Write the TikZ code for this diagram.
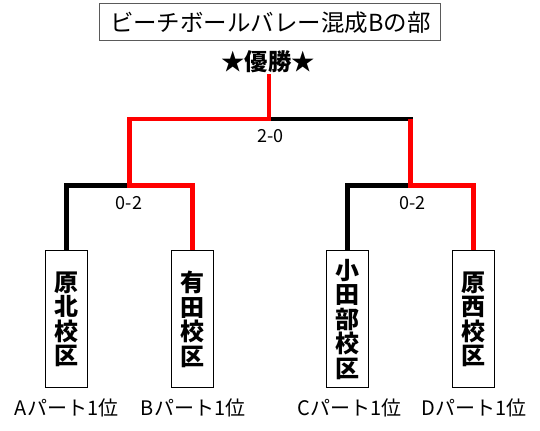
\documentclass[tikz,border=0pt]{standalone}
\usepackage{fontspec}
\setmainfont{Noto Sans CJK JP}
\begin{document}
\begin{tikzpicture}[x=0.75pt,y=0.75pt,yscale=-1,xscale=1,
  redln/.style={draw={rgb, 255:red, 255; green, 0; blue, 0 }, line width=3.6pt, line join=miter},
  blkln/.style={draw={rgb, 255:red, 0; green, 0; blue, 0 }, line width=3.6pt, line join=miter},
  schoolbox/.style={draw={rgb, 255:red, 0; green, 0; blue, 0 }, line width=0.75pt, fill=white, minimum width=31.5pt, minimum height=102.75pt, inner sep=0pt, align=center, font=\bfseries\fontsize{18}{18.4}\selectfont},
  partlbl/.style={inner sep=0.75pt, font=\fontsize{15}{18}\selectfont},
  score/.style={inner sep=0.75pt, font=\fontsize{13.5}{16}\selectfont}]
\useasboundingbox (0,0) rectangle (540,431);

% Title
\draw (270.3,22.3) node (ttl) [draw={rgb, 255:red, 90; green, 90; blue, 90 }, line width=0.75pt, minimum width=255.5pt, minimum height=27.5pt, inner sep=0pt, font=\fontsize{17.6}{20}\selectfont] {ビーチボールバレー混成Bの部};
% Text Node
\draw (268.3,61.7) node (win) [inner sep=0.75pt, font=\bfseries\fontsize{17.5}{20}\selectfont] {★優勝★};

% School boxes
\draw (66.7,319.5) node (hk) [schoolbox] {原\\北\\校\\区};
\draw (192.5,319.5) node (ar) [schoolbox] {有\\田\\校\\区};
\draw (347.5,319.5) node (ot) [schoolbox] {小\\田\\部\\校\\区};
\draw (473.5,319.5) node (ns) [schoolbox] {原\\西\\校\\区};

% Joints
\coordinate (jA) at (129.5,185.5);
\coordinate (jB) at (410.5,185.5);
\coordinate (jR) at (410.5,119);
\coordinate (jF) at (269,119);
\coordinate (wtop) at (269,74);

%Straight Lines (black)
\draw [blkln] (hk.north) |- (jA);
\draw [blkln] (ot.north) |- (jB);
\draw [blkln, line cap=rect] (jF) -- (jR);
%Straight Lines (red)
\draw [redln] (ar.north) |- (jA) |- (jF) -- (wtop);
\draw [redln] (ns.north) |- (jB) -- (jR);

% Text Node
\draw (270.5,136.5) node (sF) [score] {2-0};
\draw (129,203) node (sA) [score] {0-2};
\draw (412.5,203) node (sB) [score] {0-2};

% Text Node
\draw (66.6,408) node (pA) [partlbl] {Aパート1位};
\draw (193,408) node (pB) [partlbl] {Bパート1位};
\draw (349.6,408) node (pC) [partlbl] {Cパート1位};
\draw (474,408) node (pD) [partlbl] {Dパート1位};
\end{tikzpicture}
\end{document}
